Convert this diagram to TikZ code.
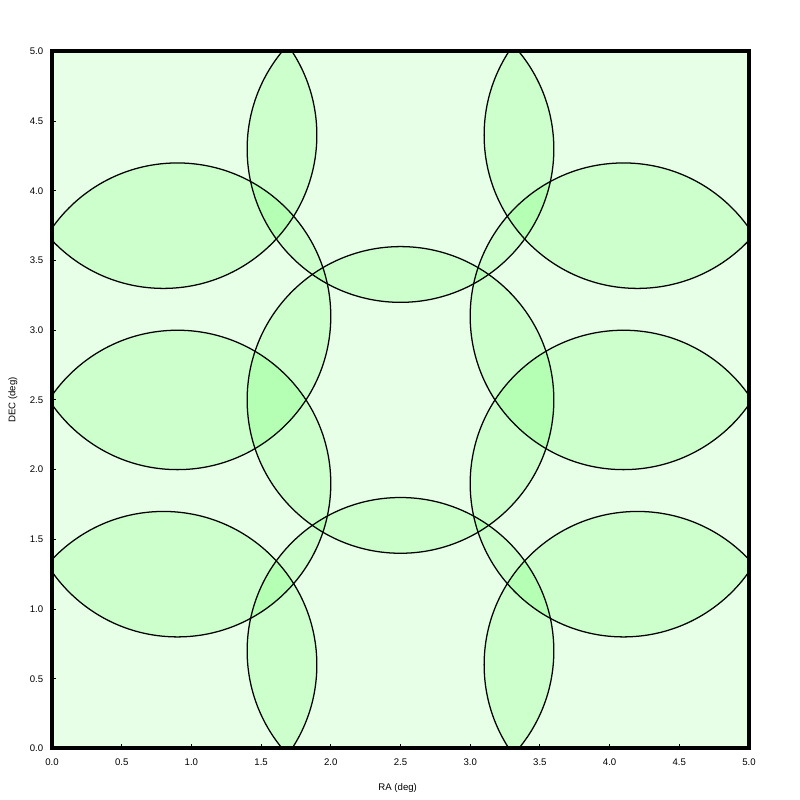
\documentclass[tikz,border=0pt]{standalone}
\usepackage{fontspec}
\setmainfont{Liberation Sans}
\begin{document}
\begin{tikzpicture}[x=41.82mm,y=41.82mm,
  bgfill/.style={fill={rgb,255:red,230;green,255;blue,230}},
  twofill/.style={fill={rgb,255:red,204;green,255;blue,204}},
  threefill/.style={fill={rgb,255:red,180;green,255;blue,180}},
  ring/.style={draw=black,line width=0.38mm},
  framebox/.style={draw=black,line width=1.2mm},
  tickmark/.style={draw=black,line width=0.3mm},
  ticklab/.style={font=\fontsize{8.2}{10}\selectfont,inner sep=0pt},
  axlab/.style={font=\fontsize{8.2}{10}\selectfont,inner sep=0pt}]
\useasboundingbox (-0.373,-0.3694) rectangle (5.366,5.369);
\fill[white] (-0.373,-0.3694) rectangle (5.366,5.369);
% circle centres
\coordinate (c1) at (2.5,2.5);
\coordinate (c2) at (2.5,4.3);
\coordinate (c3) at (2.5,0.7);
\coordinate (c4) at (0.9,3.1);
\coordinate (c5) at (0.9,1.9);
\coordinate (c6) at (0.8,4.4);
\coordinate (c7) at (0.8,0.6);
\coordinate (c8) at (4.1,3.1);
\coordinate (c9) at (4.1,1.9);
\coordinate (c10) at (4.2,4.4);
\coordinate (c11) at (4.2,0.6);
\def\R{1.1}
\begin{scope}
  \clip (0,0) rectangle (5,5);
  \fill[bgfill] (0,0) rectangle (5,5);
  % double coverage
  \foreach \i in {1,...,11}{
    \foreach \j in {1,...,11}{
      \ifnum\j>\i\relax
        \begin{scope}
          \clip (c\i) circle[radius=\R];
          \fill[twofill] (c\j) circle[radius=\R];
        \end{scope}
      \fi
    }
  }
  % triple coverage
  \foreach \i in {1,...,11}{
    \foreach \j in {1,...,11}{
      \ifnum\j>\i\relax
        \foreach \k in {1,...,11}{
          \ifnum\k>\j\relax
            \begin{scope}
              \clip (c\i) circle[radius=\R];
              \clip (c\j) circle[radius=\R];
              \fill[threefill] (c\k) circle[radius=\R];
            \end{scope}
          \fi
        }
      \fi
    }
  }
  \foreach \i in {1,...,11}{
    \draw[ring] (c\i) circle[radius=\R];
  }
\end{scope}
% ticks
\foreach \v in {0.5,1.0,...,4.5}{
  \draw[tickmark] (\v,0) -- (\v,0.03);
  \draw[tickmark] (0,\v) -- (0.03,\v);
}
\draw[framebox] (0,0) rectangle (5,5);
% tick labels
\foreach \v in {0.0,0.5,1.0,1.5,2.0,2.5,3.0,3.5,4.0,4.5,5.0}{
  \node[ticklab,anchor=center] (xl\v) at ([yshift=-4.2mm]\v,0) {\v};
  \node[ticklab,anchor=east] (yl\v) at ([xshift=-2.55mm]0,\v) {\v};
}
\node[axlab] (ralab) at (2.48,-0.283) {RA (deg)};
\node[axlab,rotate=90] (declab) at (-0.28,2.5) {DEC (deg)};
\end{tikzpicture}
\end{document}
